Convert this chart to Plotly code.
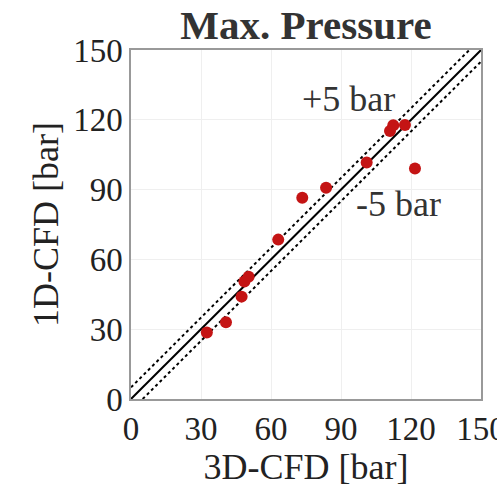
import plotly.graph_objects as go

# 3D-CFD vs 1D-CFD peak pressure, bar
cfd3d = [32.5, 40.7, 47.4, 48.6, 50.4, 63.1, 73.4, 83.6, 101.0, 111.0, 112.4, 117.4, 121.7]
cfd1d = [28.6, 33.0, 44.0, 50.5, 52.5, 68.5, 86.5, 90.8, 101.6, 115.2, 117.7, 117.8, 99.1]

ticks = [0, 30, 60, 90, 120, 150]
tol = 5
lim = 150

serif = "Liberation Serif, Times New Roman, serif"

fig = go.Figure()

# reference line y = x and +/- tolerance band
fig.add_trace(go.Scatter(x=[0, lim], y=[0, lim], mode="lines",
                         line=dict(color="black", width=2), showlegend=False))
fig.add_trace(go.Scatter(x=[0, lim - tol], y=[tol, lim], mode="lines",
                         line=dict(color="black", width=2, dash="dot"), showlegend=False))
fig.add_trace(go.Scatter(x=[tol, lim], y=[0, lim - tol], mode="lines",
                         line=dict(color="black", width=2, dash="dot"), showlegend=False))

fig.add_trace(go.Scatter(x=cfd3d, y=cfd1d, mode="markers",
                         marker=dict(color="#c41414", size=12), showlegend=False))

fig.add_annotation(x=93.4, y=129, text="+5 bar", showarrow=False,
                   font=dict(family=serif, size=36, color="#333333"))
fig.add_annotation(x=114.5, y=83.6, text="-5 bar", showarrow=False,
                   font=dict(family=serif, size=36, color="#333333"))

axis_common = dict(range=[0, lim], tickvals=ticks, showgrid=True, gridcolor="#efefef",
                   gridwidth=1, zeroline=False, showline=True, linecolor="#999999",
                   linewidth=1.5, mirror=True, ticks="", ticklabeloverflow="allow",
                   automargin=False,
                   tickfont=dict(family=serif, size=33, color="#222222"))

fig.update_layout(
    width=497, height=498,
    margin=dict(l=131, r=16, t=50, b=99),
    paper_bgcolor="white", plot_bgcolor="white",
    title=dict(text="<b>Max. Pressure</b>", xref="paper", x=0.5, xanchor="center",
               yref="container", y=0.95, yanchor="middle",
               font=dict(family=serif, size=41, color="#333333")),
    xaxis=dict(**axis_common,
               title=dict(text="3D-CFD [bar]", standoff=2,
                          font=dict(family=serif, size=36, color="#222222"))),
    yaxis=dict(**axis_common,
               title=dict(text="1D-CFD [bar]", standoff=4,
                          font=dict(family=serif, size=36, color="#222222"))),
)

fig.write_html("out.html")
